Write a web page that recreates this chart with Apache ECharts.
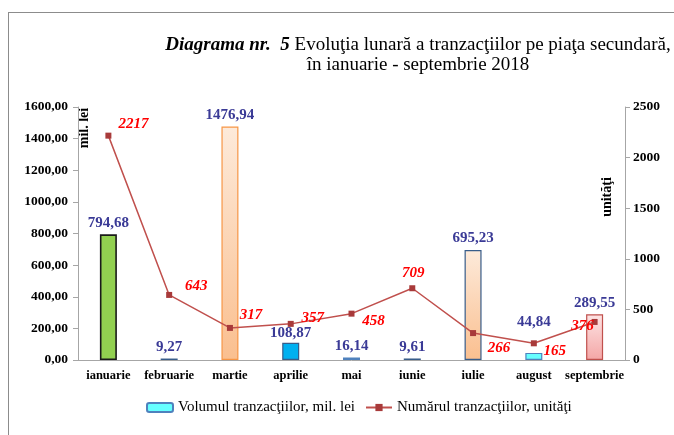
<!DOCTYPE html>
<html>
<head>
<meta charset="utf-8">
<script src="https://cdn.jsdelivr.net/npm/echarts@6/dist/echarts.min.js"></script>
<style>
	html, body { margin: 0; padding: 0; background: #fff; }
	#frame { position: absolute; left: 8px; top: 12px; width: 680px; height: 440px; border-left: 1px solid #8c8c8c; border-top: 1px solid #8c8c8c; }
	#chart { position: absolute; left: 0; top: 0; width: 674px; height: 435px; }
</style>
</head>
<body>
<div id="frame"></div>
<div id="chart"></div>
<script>
	let months = ['ianuarie', 'februarie', 'martie', 'aprilie', 'mai', 'iunie', 'iulie', 'august', 'septembrie']
	let volum = [794.68, 9.27, 1476.94, 108.87, 16.14, 9.61, 695.23, 44.84, 289.55]
	let numar = [2217, 643, 317, 357, 458, 709, 266, 165, 376]
	let leftTicks = [0, 200, 400, 600, 800, 1000, 1200, 1400, 1600]
	let rightTicks = [0, 500, 1000, 1500, 2000, 2500]

	let serif = '"Liberation Serif", "DejaVu Serif", serif'

	function grad (top, bottom) {
		return new echarts.graphic.LinearGradient(0, 0, 0, 1, [
			{ offset: 0, color: top },
			{ offset: 1, color: bottom }
		])
	}

	// bar look, month by month
	let barStyles = [
		{ color: '#92d050', borderColor: '#1a1a1a' },
		{ color: '#1f497d', borderColor: '#385d8a' },
		{ color: grad('#fdeada', '#fabf8f'), borderColor: '#f79646' },
		{ color: '#00b0f0', borderColor: '#385d8a' },
		{ color: '#dbeef4', borderColor: '#4f81bd' },
		{ color: '#1f497d', borderColor: '#385d8a' },
		{ color: grad('#fdeada', '#fabf8f'), borderColor: '#385d8a' },
		{ color: '#66ffff', borderColor: '#4f81bd' },
		{ color: grad('#fde4e4', '#f4a6a6'), borderColor: '#c0504d' }
	]
	// offsets of the labels from their marks
	let barOffsets = [[0, 0], [0, 0], [0, 0], [0, 2], [0, 0], [0, 0], [0, 0], [0, -19], [0, 0]]
	let lineOffsets = [[25, -12], [27, -9], [21, -13], [22, -6], [22, 7], [1, -15], [26, 15], [21, 8], [-12, 4]]

	let chart = echarts.init(document.getElementById('chart'))
	let option = {
		animation: false,
		title: {
			left: 413,
			top: 30,
			textAlign: 'center',
			text: '{i|Diagrama nr.}  {i|5} Evoluţia lunară a tranzacţiilor pe piaţa secundară,\nîn ianuarie - septembrie 2018',
			textStyle: {
				fontFamily: serif,
				fontSize: 19,
				fontWeight: 'normal',
				color: '#000',
				lineHeight: 20,
				rich: {
					i: { fontFamily: serif, fontSize: 19, fontStyle: 'italic', fontWeight: 'bold', color: '#000', lineHeight: 20 }
				}
			}
		},
		grid: { left: 78, right: 49, top: 107, bottom: 75 },
		legend: {
			bottom: 15,
			left: 141,
			itemWidth: 26,
			itemHeight: 9,
			itemGap: 10,
			textStyle: { fontFamily: serif, fontSize: 15, color: '#000' },
			data: ['Volumul tranzacţiilor, mil. lei', 'Numărul tranzacţiilor, unităţi']
		},
		xAxis: {
			type: 'category',
			data: months,
			axisLine: { lineStyle: { color: '#a6a6a6' } },
			axisTick: { alignWithLabel: false, length: 5, lineStyle: { color: '#a6a6a6' } },
			axisLabel: { interval: 0, fontFamily: serif, fontSize: 12.5, fontWeight: 'bold', color: '#000', margin: 9 }
		},
		yAxis: [
			{
				type: 'value',
				min: 0,
				max: leftTicks[leftTicks.length - 1],
				interval: leftTicks[1] - leftTicks[0],
				splitLine: { show: false },
				axisLine: { show: true, lineStyle: { color: '#a6a6a6' } },
				axisTick: { show: true, length: 5, lineStyle: { color: '#a6a6a6' } },
				axisLabel: {
					fontFamily: serif, fontSize: 13.5, fontWeight: 'bold', color: '#000', margin: 10,
					formatter: v => v.toFixed(2).replace('.', ',')
				}
			},
			{
				type: 'value',
				min: 0,
				max: rightTicks[rightTicks.length - 1],
				interval: rightTicks[1] - rightTicks[0],
				splitLine: { show: false },
				axisLine: { show: true, lineStyle: { color: '#a6a6a6' } },
				axisTick: { show: true, length: 5, lineStyle: { color: '#a6a6a6' } },
				axisLabel: {
					fontFamily: serif, fontSize: 13.5, fontWeight: 'bold', color: '#000', margin: 8,
					formatter: v => String(v)
				}
			}
		],
		graphic: [
			{
				type: 'text', x: 84, y: 128, rotation: Math.PI / 2,
				style: { text: 'mil. lei', font: 'bold 14px ' + serif, fill: '#000', align: 'center', verticalAlign: 'middle' }
			},
			{
				type: 'text', x: 607, y: 197, rotation: Math.PI / 2,
				style: { text: 'unităţi', font: 'bold 14px ' + serif, fill: '#000', align: 'center', verticalAlign: 'middle' }
			}
		],
		series: [
			{
				name: 'Volumul tranzacţiilor, mil. lei',
				type: 'bar',
				barWidth: 17,
				itemStyle: { color: '#66ffff', borderColor: '#4f81bd', borderWidth: 1.2 },
				label: {
					show: true,
					position: 'top',
					distance: 4,
					fontFamily: serif,
					fontSize: 15,
					fontWeight: 'bold',
					color: '#3a3a96',
					formatter: p => p.value.toFixed(2).replace('.', ',')
				},
				data: volum.map((v, i) => ({
					value: v,
					itemStyle: Object.assign({ borderWidth: i === 0 ? 1.6 : 1.2 }, barStyles[i]),
					label: { offset: barOffsets[i] }
				}))
			},
			{
				name: 'Numărul tranzacţiilor, unităţi',
				type: 'line',
				yAxisIndex: 1,
				symbol: 'rect',
				symbolSize: 6,
				lineStyle: { color: '#c0504d', width: 1.5 },
				itemStyle: { color: '#a83a3a' },
				label: {
					show: true,
					position: 'inside',
					fontFamily: serif,
					fontSize: 15,
					fontWeight: 'bold',
					fontStyle: 'italic',
					color: '#ff0000'
				},
				data: numar.map((v, i) => ({
					value: v,
					label: { offset: lineOffsets[i] }
				}))
			}
		]
	}
	chart.setOption(option)
</script>
</body>
</html>
